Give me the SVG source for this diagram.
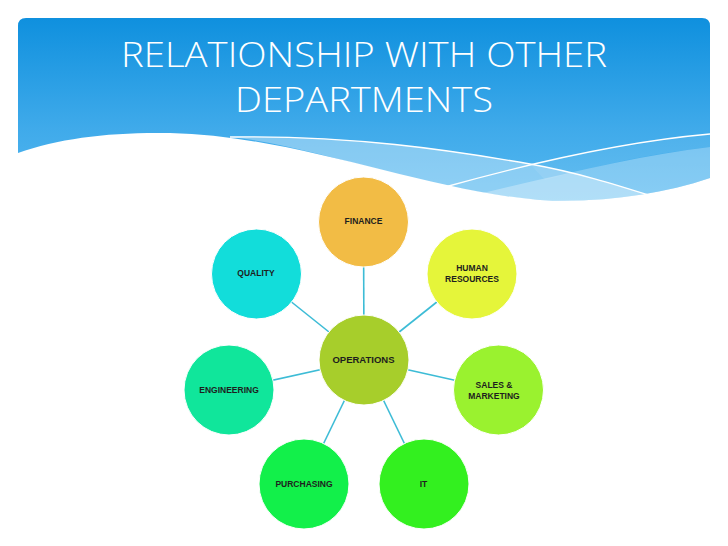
<svg xmlns="http://www.w3.org/2000/svg" width="728" height="546" viewBox="0 0 728 546">
<defs>
<linearGradient id="hdr" x1="0" y1="0" x2="0" y2="1">
<stop offset="0" stop-color="#0F90DE"/>
<stop offset="0.6" stop-color="#3FAAEA"/>
<stop offset="1" stop-color="#55B8F0"/>
</linearGradient>
<style>
.title{font-family:"Open Sans","Liberation Sans",sans-serif;font-weight:300;font-size:34px;fill:#ffffff;text-anchor:middle}
.lbl{font-family:"Liberation Sans",Arial,sans-serif;font-weight:bold;font-size:8.5px;fill:#1e1e1e;text-anchor:middle}
.conn{stroke:#3DBCD6;stroke-width:1.6;fill:none}
.node{stroke:#ffffff;stroke-width:1}
.wl{stroke:#ffffff;stroke-width:1.3;fill:none}
</style>
</defs>
<rect width="728" height="546" fill="#ffffff"/>
<g id="header">
<path d="M18,26 Q18,18 26,18 H702 Q710,18 710,26 V178 C660,195 600,203 540,200 C420,190 300,136 170,133 C110,132 60,138 18,153 Z" fill="url(#hdr)"/>
<path d="M230,137 C350,135 450,150 530,164 C580,173 620,186 655,197 C620,200 580,201 540,200 C420,190 320,146 230,137 Z" fill="#ffffff" fill-opacity="0.35"/>
<path d="M470,196 C560,175 640,155 710,147 V178 C660,195 600,203 540,200 C515,199 490,198 470,196 Z" fill="#ffffff" fill-opacity="0.3"/>
<path d="M530,164 C600,150 660,140 710,134 V147 C640,155 590,168 545,180 Z" fill="#ffffff" fill-opacity="0.08"/>
<path class="wl" d="M230,137 C350,135 450,150 530,164 C580,173 620,186 655,197"/>
<path class="wl" d="M445,187 C520,166 620,142 710,134"/>
<text class="title" x="364" y="67" textLength="486" lengthAdjust="spacingAndGlyphs">RELATIONSHIP WITH OTHER</text>
<text class="title" x="364" y="112" textLength="258" lengthAdjust="spacingAndGlyphs">DEPARTMENTS</text>
</g>
<g id="connectors">
<line class="conn" x1="364" y1="360" x2="363.5" y2="222"/>
<line class="conn" x1="364" y1="360" x2="256.5" y2="274"/>
<line class="conn" x1="364" y1="360" x2="472" y2="274"/>
<line class="conn" x1="364" y1="360" x2="229" y2="390"/>
<line class="conn" x1="364" y1="360" x2="498.5" y2="390"/>
<line class="conn" x1="364" y1="360" x2="304" y2="484"/>
<line class="conn" x1="364" y1="360" x2="424" y2="484"/>
</g>
<g id="finance">
<circle class="node" cx="363.5" cy="222" r="45" fill="#F2BC45"/>
<text class="lbl" x="363.5" y="224">FINANCE</text>
</g>
<g id="quality">
<circle class="node" cx="256.5" cy="274" r="45" fill="#12DDDA"/>
<text class="lbl" x="256" y="276">QUALITY</text>
</g>
<g id="human-resources">
<circle class="node" cx="472" cy="274" r="45" fill="#E5F53A"/>
<text class="lbl" x="472" y="271">HUMAN</text>
<text class="lbl" x="472" y="282">RESOURCES</text>
</g>
<g id="operations">
<circle class="node" cx="364" cy="360" r="45" fill="#A7CE2B"/>
<text class="lbl" x="363.5" y="363" style="font-size:9.5px">OPERATIONS</text>
</g>
<g id="engineering">
<circle class="node" cx="229" cy="390" r="45" fill="#10E69B"/>
<text class="lbl" x="229" y="393">ENGINEERING</text>
</g>
<g id="sales-marketing">
<circle class="node" cx="498.5" cy="390" r="45" fill="#9AF22F"/>
<text class="lbl" x="494" y="388">SALES &amp;</text>
<text class="lbl" x="494" y="399">MARKETING</text>
</g>
<g id="purchasing">
<circle class="node" cx="304" cy="484" r="45" fill="#12F04A"/>
<text class="lbl" x="304" y="487">PURCHASING</text>
</g>
<g id="it">
<circle class="node" cx="424" cy="484" r="45" fill="#33F01F"/>
<text class="lbl" x="423.5" y="487">IT</text>
</g>
</svg>
